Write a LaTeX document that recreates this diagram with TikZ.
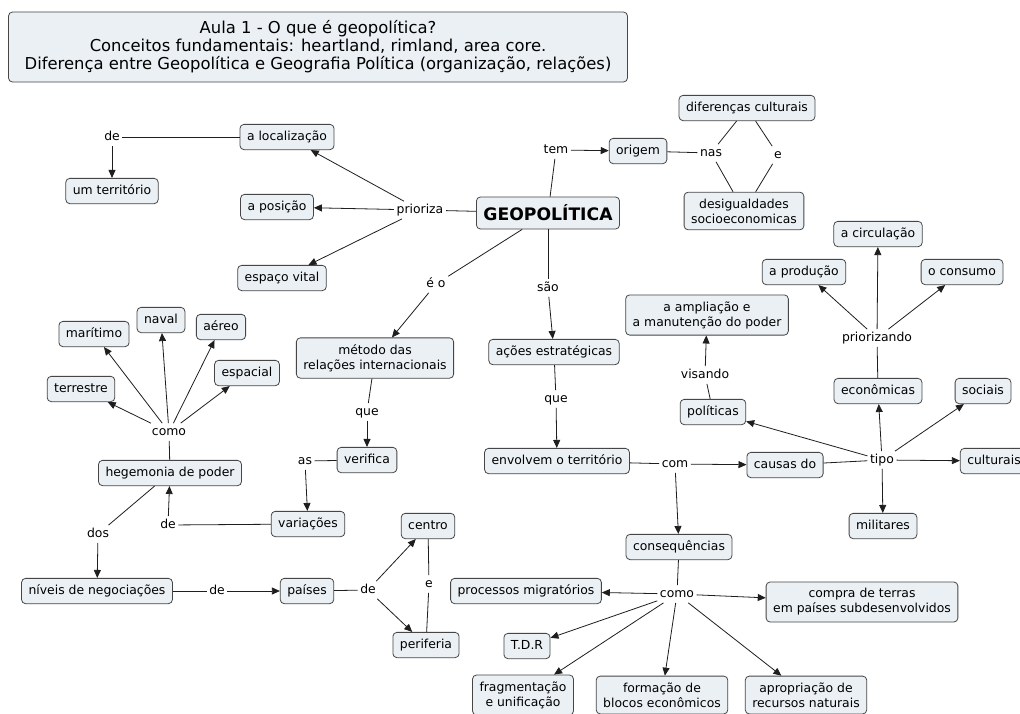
\documentclass[tikz,border=0pt]{standalone}
\usepackage{fontspec}
\setmainfont{DejaVu Sans}
\usetikzlibrary{arrows.meta}
\definecolor{cfill}{RGB}{234,240,244}
\definecolor{cdraw}{RGB}{70,70,70}
\definecolor{lncol}{RGB}{30,30,30}
\begin{document}
\begin{tikzpicture}[x=1pt,y=-1pt,
  cbase/.style={draw=cdraw, fill=cfill, rounded corners=4pt, line width=0.8pt,
    font=\fontsize{12.4}{15}\selectfont, inner xsep=7pt, inner ysep=6.5pt, align=center},
  concept/.style={cbase, text height=9.3pt, text depth=3pt},
  phrase/.style={font=\fontsize{12.4}{15}\selectfont, inner sep=2.5pt, text height=9.3pt, text depth=3pt},
  ln/.style={draw=lncol, line width=0.8pt},
  arr/.style={ln, -{Triangle[length=8pt,width=7pt]}}
]
\useasboundingbox (0,0) rectangle (1020,713);
\clip (0,0) rectangle (1020,713);
\fill[white] (0,0) rectangle (1020,713);

% title
\node[cbase, minimum width=619pt, minimum height=70pt, font=\fontsize{16.4}{18}\selectfont] (title) at (318,47)
  {Aula 1 - O que é geopolítica?\\Conceitos fundamentais: heartland, rimland, area core.\\Diferença entre Geopolítica e Geografia Política (organização, relações)};

% concepts
\node[cbase, font=\bfseries\fontsize{17.2}{20}\selectfont, minimum height=32pt] (geo) at (548,213) {GEOPOLÍTICA};
\node[concept] (loc) at (287,137) {a localização};
\node[concept] (terr) at (112,191) {um território};
\node[concept] (pos) at (277,207) {a posição};
\node[concept] (esp) at (282,278) {espaço vital};
\node[concept] (orig) at (638,151) {origem};
\node[concept] (dif) at (747,108) {diferenças culturais};
\node[cbase] (desig) at (744,211) {desigualdades\\socioeconomicas};
\node[cbase] (met) at (375,358) {método das\\relações internacionais};
\node[concept] (acoes) at (554,352) {ações estratégicas};
\node[cbase] (ampl) at (707,315) {a ampliação e\\a manutenção do poder};
\node[concept] (circ) at (878,234) {a circulação};
\node[concept] (prod) at (804,272) {a produção};
\node[concept] (cons) at (962,272) {o consumo};
\node[concept] (pol) at (713,412) {políticas};
\node[concept] (econ) at (878,391) {econômicas};
\node[concept] (soc) at (983,391) {sociais};
\node[concept] (cult) at (994,461) {culturais};
\node[concept] (mil) at (883,526) {militares};
\node[concept] (causas) at (785,465) {causas do};
\node[concept] (env) at (557,461) {envolvem o território};
\node[concept] (verif) at (367,460) {verifica};
\node[concept] (var) at (308,524) {variações};
\node[concept] (hege) at (170,473) {hegemonia de poder};
\node[concept] (terre) at (81,389) {terrestre};
\node[concept] (mari) at (94,334) {marítimo};
\node[concept] (nav) at (161,320) {naval};
\node[concept] (aer) at (221,327) {aéreo};
\node[concept] (espa) at (247,373) {espacial};
\node[concept] (niv) at (97,591) {níveis de negociações};
\node[concept] (pais) at (307,591) {países};
\node[concept] (centro) at (428,526) {centro};
\node[concept] (perif) at (426,645) {periferia};
\node[concept] (conseq) at (679,547) {consequências};
\node[concept] (proc) at (526,591) {processos migratórios};
\node[cbase] (compra) at (862,602) {compra de terras\\em países subdesenvolvidos};
\node[concept] (tdr) at (527,646) {T.D.R};
\node[cbase] (frag) at (523,695) {fragmentação\\e unificação};
\node[cbase] (form) at (662,695) {formação de\\blocos econômicos};
\node[cbase] (aprop) at (806,695) {apropriação de\\recursos naturais};

% linking phrases
\node[phrase] (pde1) at (112,137) {de};
\node[phrase] (pprior) at (420,210) {prioriza};
\node[phrase] (ptem) at (556,150) {tem};
\node[phrase] (pnas) at (711,153) {nas};
\node[phrase] (pe1) at (778,155) {e};
\node[phrase] (peo) at (436,284) {é o};
\node[phrase] (psao) at (548,288) {são};
\node[phrase] (pque1) at (367,412) {que};
\node[phrase] (pque2) at (556,399) {que};
\node[phrase] (pas) at (305,461) {as};
\node[phrase] (pde2) at (168,525) {de};
\node[phrase] (pcomo1) at (169,432) {como};
\node[phrase] (pdos) at (98,534) {dos};
\node[phrase] (pde3) at (217,591) {de};
\node[phrase] (pde4) at (368,590) {de};
\node[phrase] (pe2) at (429,584) {e};
\node[phrase] (pcom) at (675,464) {com};
\node[phrase] (ptipo) at (882,460) {tipo};
\node[phrase] (pvis) at (705,375) {visando};
\node[phrase] (pprz) at (877,338) {priorizando};
\node[phrase] (pcomo2) at (677,594) {como};

% connectors
\draw[ln] (loc) -- (pde1);
\draw[arr] (pde1) -- (terr);
\draw[ln] (geo) -- (pprior);
\draw[arr] (pprior) -- (loc);
\draw[arr] (pprior) -- (pos);
\draw[arr] (pprior) -- (esp);
\draw[ln] (geo) -- (ptem);
\draw[arr] (ptem) -- (orig);
\draw[ln] (orig) -- (pnas);
\draw[ln] (pnas) -- (dif);
\draw[ln] (pnas) -- (desig);
\draw[ln] (dif) -- (pe1);
\draw[ln] (pe1) -- (desig);
\draw[ln] (geo) -- (peo);
\draw[arr] (peo) -- (met);
\draw[ln] (geo) -- (psao);
\draw[arr] (psao) -- (acoes);
\draw[ln] (met) -- (pque1);
\draw[arr] (pque1) -- (verif);
\draw[ln] (verif) -- (pas);
\draw[arr] (pas) -- (var);
\draw[ln] (var) -- (pde2);
\draw[arr] (pde2) -- (hege);
\draw[ln] (hege) -- (pcomo1);
\draw[arr] (pcomo1) -- (terre);
\draw[arr] (pcomo1) -- (mari);
\draw[arr] (pcomo1) -- (nav);
\draw[arr] (pcomo1) -- (aer);
\draw[arr] (pcomo1) -- (espa);
\draw[ln] (hege) -- (pdos);
\draw[arr] (pdos) -- (niv);
\draw[ln] (niv) -- (pde3);
\draw[arr] (pde3) -- (pais);
\draw[ln] (pais) -- (pde4);
\draw[arr] (pde4) -- (centro);
\draw[arr] (pde4) -- (perif);
\draw[ln] (centro) -- (pe2);
\draw[ln] (pe2) -- (perif);
\draw[ln] (acoes) -- (pque2);
\draw[arr] (pque2) -- (env);
\draw[ln] (env) -- (pcom);
\draw[arr] (pcom) -- (causas);
\draw[arr] (pcom) -- (conseq);
\draw[ln] (causas) -- (ptipo);
\draw[arr] (ptipo) -- (pol);
\draw[arr] (ptipo) -- (econ);
\draw[arr] (ptipo) -- (soc);
\draw[arr] (ptipo) -- (cult);
\draw[arr] (ptipo) -- (mil);
\draw[ln] (pol) -- (pvis);
\draw[arr] (pvis) -- (ampl);
\draw[ln] (econ) -- (pprz);
\draw[arr] (pprz) -- (prod);
\draw[arr] (pprz) -- (circ);
\draw[arr] (pprz) -- (cons);
\draw[ln] (conseq) -- (pcomo2);
\draw[arr] (pcomo2) -- (proc);
\draw[arr] (pcomo2) -- (compra);
\draw[arr] (pcomo2) -- (tdr);
\draw[arr] (pcomo2) -- (frag);
\draw[arr] (pcomo2) -- (form);
\draw[arr] (pcomo2) -- (aprop);
\end{tikzpicture}
\end{document}
